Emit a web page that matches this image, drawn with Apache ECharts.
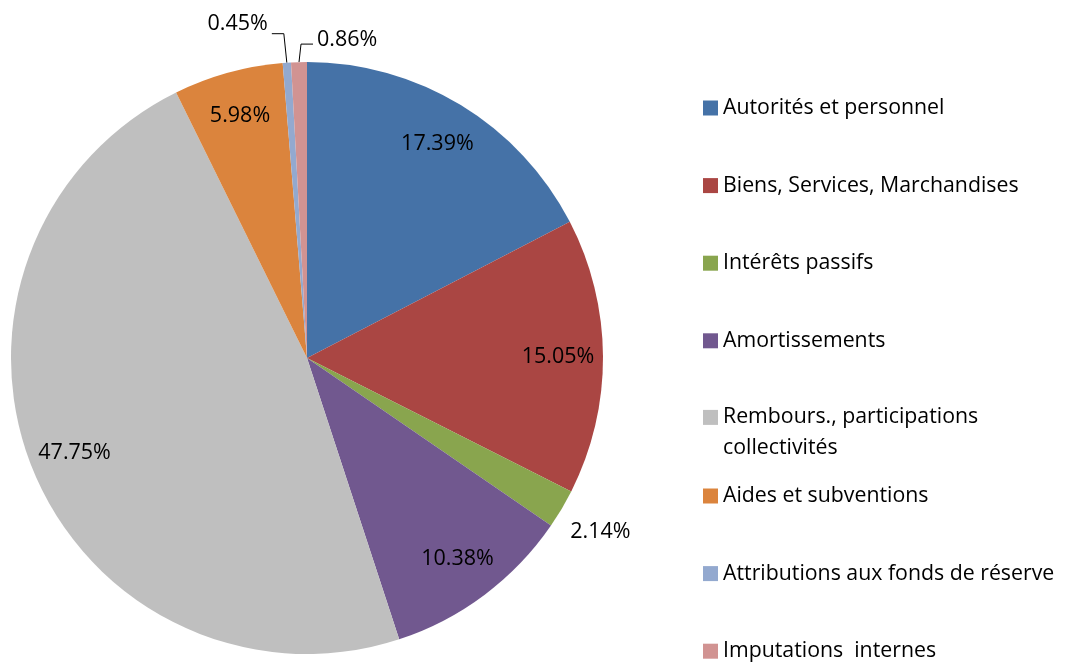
<!DOCTYPE html>
<html>
<head>
<meta charset="utf-8">
<script src="https://cdn.jsdelivr.net/npm/echarts@6/dist/echarts.min.js"></script>
<style>
  html, body { margin: 0; padding: 0; background: #fff; }
  #chart { width: 1070px; height: 662px; }
</style>
</head>
<body>
<div id="chart"></div>
<script>
var categories = [
    'Autorités et personnel',
    'Biens, Services, Marchandises',
    'Intérêts passifs',
    'Amortissements',
    'Rembours., participations collectivités',
    'Aides et subventions',
    'Attributions aux fonds de réserve',
    'Imputations  internes'
];
var shares = [17.39, 15.05, 2.14, 10.38, 47.75, 5.98, 0.45, 0.86];
var colors = ['#4572A7', '#AA4643', '#89A54E', '#71588F', '#BFBFBF', '#DB843D', '#93A9CF', '#D19392'];

var FONT = 'Open Sans';
var CX = 307, CY = 358, R = 296;

function fmt(v) { return v.toFixed(2) + '%'; }

// big slices: label inside near rim, mid slices: label just outside, tiny: leader line
function kind(v) { return v >= 5 ? 'inner' : (v >= 1 ? 'ring' : 'leader'); }

var mainData = shares.map(function (v, i) {
    return {
        name: categories[i], value: v,
        itemStyle: { color: colors[i] },
        label: { show: kind(v) === 'leader' },
        labelLine: { show: kind(v) === 'leader' }
    };
});
function overlayData(which) {
    return shares.map(function (v, i) {
        return { name: categories[i], value: v, label: { show: kind(v) === which } };
    });
}

var labelText = {
    fontFamily: FONT, fontSize: 21.5, color: '#000',
    formatter: function (p) { return fmt(p.value); }
};

var LH = 31;
var legends = categories.map(function (name, i) {
    var mid = 105 + i * 77.6;
    var lg = {
        data: [name], orient: 'vertical',
        left: 703, top: mid - 7.5,
        padding: 0, itemWidth: 15, itemHeight: 15,
        icon: 'rect',
        textStyle: { fontFamily: FONT, fontSize: 21.3, color: '#000' }
    };
    if (name.length > 34) {
        // wrap after the last word that fits, keep first line level with the marker
        var cut = name.lastIndexOf(' ');
        lg.formatter = function (n) { return '\n' + n.slice(0, cut) + '\n' + n.slice(cut + 1); };
        lg.textStyle.lineHeight = LH;
        lg.top = mid - LH * 1.5 + 2;
    }
    return lg;
});

var chart = echarts.init(document.getElementById('chart'));
chart.setOption({
    backgroundColor: '#fff',
    animation: false,
    legend: legends,
    series: [
        {
            type: 'pie', center: [CX, CY], radius: R,
            startAngle: 90, clockwise: true,
            avoidLabelOverlap: false,
            emphasis: { scale: false },
            label: Object.assign({ position: 'outside' }, labelText),
            labelLine: { length: 28, length2: 12, lineStyle: { color: '#000', width: 1 } },
            labelLayout: function (p) {
                var pts = p.labelLinePoints;
                if (!pts || shares[p.dataIndex] >= 1) return;
                var a = pts[0];
                if (p.dataIndex === 6) {
                    return {
                        x: a[0] - 19, y: a[1] - 39, align: 'right', verticalAlign: 'middle',
                        labelLinePoints: [a, [a[0] - 3, a[1] - 29], [a[0] - 15, a[1] - 29]]
                    };
                }
                return {
                    x: a[0] + 18, y: a[1] - 22, align: 'left', verticalAlign: 'middle',
                    labelLinePoints: [a, [a[0] + 2, a[1] - 18], [a[0] + 14, a[1] - 18]]
                };
            },
            data: mainData
        },
        {
            type: 'pie', center: [CX, CY], radius: [200, R],
            startAngle: 90, clockwise: true, silent: true,
            itemStyle: { color: 'rgba(0,0,0,0)', borderWidth: 0 },
            label: Object.assign({ position: 'inside' }, labelText),
            labelLine: { show: false },
            data: overlayData('inner')
        },
        {
            type: 'pie', center: [CX, CY], radius: [R, 380],
            startAngle: 90, clockwise: true, silent: true,
            itemStyle: { color: 'rgba(0,0,0,0)', borderWidth: 0 },
            label: Object.assign({ position: 'inside' }, labelText),
            labelLine: { show: false },
            data: overlayData('ring')
        }
    ]
});
</script>
</body>
</html>
